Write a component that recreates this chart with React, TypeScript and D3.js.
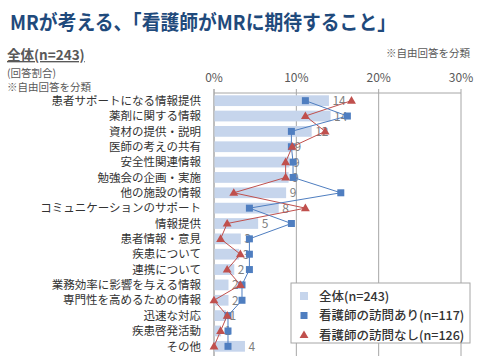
import React from "react";
import * as d3 from "d3";

const categories = [
  "患者サポートになる情報提供",
  "薬剤に関する情報",
  "資材の提供・説明",
  "医師の考えの共有",
  "安全性関連情報",
  "勉強会の企画・実施",
  "他の施設の情報",
  "コミュニケーションのサポート",
  "情報提供",
  "患者情報・意見",
  "疾患について",
  "連携について",
  "業務効率に影響を与える情報",
  "専門性を高めるための情報",
  "迅速な対応",
  "疾患啓発活動",
  "その他",
];
const overall = [13.9, 14.1, 11.8, 9.3, 9.1, 9.0, 8.7, 7.8, 5.3, 3.2, 3.0, 2.4, 1.7, 1.7, 1.4, 0.8, 3.7];
const visited = [11.1, 16.2, 9.4, 9.4, 9.6, 9.6, 15.4, 4.3, 9.4, 4.3, 4.3, 4.3, 3.4, 3.4, 1.7, 1.7, 1.7];
const notVisited = [16.7, 11.1, 13.5, 9.5, 8.7, 8.7, 2.4, 11.1, 1.6, 0.8, 3.2, 1.6, 3.2, 0, 1.6, 0.8, 0];
const ticks = [0, 10, 20, 30];
const legendLabels = ["全体(n=243)", "看護師の訪問あり(n=117)", "看護師の訪問なし(n=126)"];

const FONT = "'Noto Sans CJK JP', 'Noto Sans', sans-serif";
const BAR = "#C6D5EC";
const BLUE = "#4F7EC0";
const RED = "#C0504D";

export default function App() {
  const W = 480, H = 360;
  const x = d3.scaleLinear().domain([0, 30]).range([214, 461]);
  const y = d3.scaleBand<number>().domain(d3.range(categories.length)).range([93, 354]).paddingInner(0.3).paddingOuter(0.15);
  const yc = (i: number) => (y(i) as number) + y.bandwidth() / 2;
  const line = d3.line<number>().x((d) => x(d)).y((_, i) => yc(i));
  const tri = d3.symbol().type(d3.symbolTriangle).size(34)();

  return (
    <svg width={W} height={H} style={{ position: "absolute", left: 0, top: 0, fontFamily: FONT }}>
      <rect width={W} height={H} fill="#fff" />
      <text x={10} y={30} fontSize={20.5} fontWeight="bold" fill="#1F4A7C" textLength={386} lengthAdjust="spacingAndGlyphs">
        MRが考える、「看護師がMRに期待すること」
      </text>
      <text x={7} y={60} fontSize={13.5} fontWeight="bold" fill="#595959" textDecoration="underline">全体(n=243)</text>
      <text x={7} y={77} fontSize={10.5} fill="#595959">(回答割合)</text>
      <text x={7} y={91} fontSize={10.5} fill="#595959">※自由回答を分類</text>
      <text x={470} y={57} fontSize={10.5} fill="#595959" textAnchor="end">※自由回答を分類</text>

      {ticks.map((t) => (
        <g key={t}>
          <text x={x(t)} y={82} fontSize={12} fill="#595959" textAnchor="middle">{t}%</text>
          <line x1={x(t)} x2={x(t)} y1={89} y2={356} stroke={t === 0 ? "#7f7f7f" : "#a6a6a6"} strokeWidth={1} />
        </g>
      ))}
      <line x1={x(0)} x2={x(30)} y1={93} y2={93} stroke="#a6a6a6" />

      {categories.map((c, i) => (
        <text key={c} x={201} y={yc(i) + 4.2} fontSize={11.5} fill="#333" textAnchor="end">{c}</text>
      ))}

      {overall.map((v, i) => (
        <g key={i}>
          <rect x={x(0) + 0.5} y={y(i)} width={x(v) - x(0)} height={y.bandwidth()} fill={BAR} />
          <text x={x(v) + 4} y={yc(i) + 4.5} fontSize={12} fill="#7f7f7f">{Math.round(v)}</text>
        </g>
      ))}

      <path d={line(notVisited) || ""} fill="none" stroke={RED} strokeWidth={1} />
      <path d={line(visited) || ""} fill="none" stroke={BLUE} strokeWidth={1} />
      {visited.map((v, i) => (
        <rect key={"b" + i} x={x(v) - 3.5} y={yc(i) - 3.5} width={7} height={7} fill={BLUE} />
      ))}
      {notVisited.map((v, i) => (
        <path key={"r" + i} d={tri || ""} transform={`translate(${x(v)},${yc(i) + 0.5})`} fill={RED} />
      ))}

      <g>
        <rect x={291} y={283} width={179} height={60} fill="#fff" stroke="#a6a6a6" />
        {legendLabels.map((l, i) => {
          const ly = 296 + i * 19.5;
          return (
            <g key={l}>
              {i === 0 && <rect x={300} y={ly - 4} width={8} height={8} fill={BAR} />}
              {i === 1 && <rect x={300.5} y={ly - 3.5} width={7} height={7} fill={BLUE} />}
              {i === 2 && <path d={tri || ""} transform={`translate(304,${ly + 0.5})`} fill={RED} />}
              <text x={319} y={ly + 4.5} fontSize={12.5} fontWeight={500} fill="#333">{l}</text>
            </g>
          );
        })}
      </g>
    </svg>
  );
}
